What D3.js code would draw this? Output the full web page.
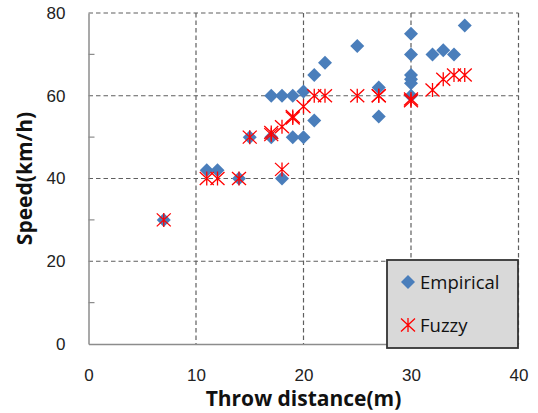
<!DOCTYPE html>
<html>
<head>
<meta charset="utf-8">
<script src="https://cdn.jsdelivr.net/npm/d3@7"></script>
<style>
  body { margin: 0; background: #fff; }
  svg { display: block; font-family: "Open Sans", sans-serif; }
</style>
</head>
<body>
<svg id="chart" width="538" height="413"></svg>
<script>
// data
var empiricalX = [7, 11, 12, 14, 15, 17, 17, 18, 18, 19, 19, 20, 20, 21, 21, 22, 25, 27, 27, 30, 30, 30, 30, 30, 30, 32, 33, 34, 35];
var empiricalY = [30, 42, 42, 40, 50, 50, 60, 60, 40, 60, 50, 61, 50, 65, 54, 68, 72, 62, 55, 75, 70, 65, 64, 63, 60, 70, 71, 70, 77];
var fuzzyX = [7, 11, 12, 14, 15, 17, 17, 18, 18, 19, 19, 20, 21, 22, 25, 27, 27, 30, 30, 32, 33, 34, 35];
var fuzzyY = [30, 40, 40, 40, 50, 50.6, 51.1, 52.5, 42.2, 54.6, 55, 57.4, 60, 60, 60, 60, 60, 58.8, 59.2, 61.4, 64, 65, 65];
var xTicks = [0, 10, 20, 30, 40];
var yTicks = [0, 20, 40, 60, 80];
var yMinor = [10, 30, 50, 70];
var seriesNames = ["Empirical", "Fuzzy"];

var svg = d3.select("#chart");
var plotLeft = 88.5, plotRight = 518.5, plotTop = 13, plotBottom = 344;

var x = d3.scaleLinear().domain([0, 40]).range([plotLeft, plotRight]);
var y = d3.scaleLinear().domain([0, 80]).range([plotBottom, plotTop]);

// gridlines
var grid = svg.append("g")
    .attr("stroke", "#5f5f5f")
    .attr("stroke-width", 1.2)
    .attr("stroke-dasharray", "4.5,3");
grid.selectAll("line.v")
    .data(xTicks.slice(1))
    .enter().append("line")
    .attr("x1", function(d){ return x(d); })
    .attr("x2", function(d){ return x(d); })
    .attr("y1", plotTop).attr("y2", plotBottom);
grid.selectAll("line.h")
    .data(yTicks.slice(1))
    .enter().append("line")
    .attr("y1", function(d){ return y(d); })
    .attr("y2", function(d){ return y(d); })
    .attr("x1", plotLeft).attr("x2", plotRight);

// axes
var yAxis = d3.axisLeft(y).tickValues(yTicks).tickSize(0).tickPadding(23);
var xAxis = d3.axisBottom(x).tickValues(xTicks).tickSize(0).tickPadding(25);

var gy = svg.append("g").attr("transform", "translate(" + plotLeft + ",0)").call(yAxis);
var gx = svg.append("g").attr("transform", "translate(0," + plotBottom + ")").call(xAxis);
[gx, gy].forEach(function(g) {
    g.select(".domain").attr("stroke", "#8c8c8c").attr("stroke-width", 1.5);
    g.selectAll("text").attr("fill", "#222").style("font-size", "17px");
});

// minor ticks inside the plot on the y axis
svg.append("g").selectAll("line")
    .data(yMinor)
    .enter().append("line")
    .attr("x1", plotLeft).attr("x2", plotLeft + 6)
    .attr("y1", function(d){ return y(d); })
    .attr("y2", function(d){ return y(d); })
    .attr("stroke", "#8c8c8c").attr("stroke-width", 1.2);

// markers
var diamond = "M0,-7L7,0L0,7L-7,0Z";
var star = "M0,-7L0,7M-7,-6.5L7,6.5M-7,6.5L7,-6.5";

svg.append("g").selectAll("path")
    .data(d3.range(empiricalX.length))
    .enter().append("path")
    .attr("d", diamond)
    .attr("transform", function(i){ return "translate(" + x(empiricalX[i]) + "," + y(empiricalY[i]) + ")"; })
    .attr("fill", "#4a7ebb");

svg.append("g").selectAll("path")
    .data(d3.range(fuzzyX.length))
    .enter().append("path")
    .attr("d", star)
    .attr("transform", function(i){ return "translate(" + x(fuzzyX[i]) + "," + y(fuzzyY[i]) + ")"; })
    .attr("fill", "none")
    .attr("stroke", "#ff0000")
    .attr("stroke-width", 1.3);

// axis titles
svg.append("text")
    .attr("x", x(20)).attr("y", 406)
    .attr("text-anchor", "middle")
    .style("font-size", "21px").style("font-weight", "bold")
    .attr("fill", "#111")
    .text("Throw distance(m)");

svg.append("text")
    .attr("transform", "translate(32," + y(40) + ") rotate(-90)")
    .attr("text-anchor", "middle")
    .style("font-size", "21px").style("font-weight", "bold")
    .attr("fill", "#111")
    .text("Speed(km/h)");

// legend
var legend = svg.append("g");
legend.append("rect")
    .attr("x", 387).attr("y", 260)
    .attr("width", 131).attr("height", 88)
    .attr("fill", "#d9d9d9")
    .attr("stroke", "#333").attr("stroke-width", 1.8);
legend.append("path")
    .attr("d", diamond)
    .attr("transform", "translate(408,282)")
    .attr("fill", "#4a7ebb");
legend.append("path")
    .attr("d", star)
    .attr("transform", "translate(408,325)")
    .attr("fill", "none").attr("stroke", "#ff0000").attr("stroke-width", 1.3);
legend.selectAll("text")
    .data(seriesNames)
    .enter().append("text")
    .attr("x", 420)
    .attr("y", function(d, i){ return 289 + i * 43; })
    .style("font-size", "18.5px")
    .attr("fill", "#111")
    .text(function(d){ return d; });
</script>
</body>
</html>
